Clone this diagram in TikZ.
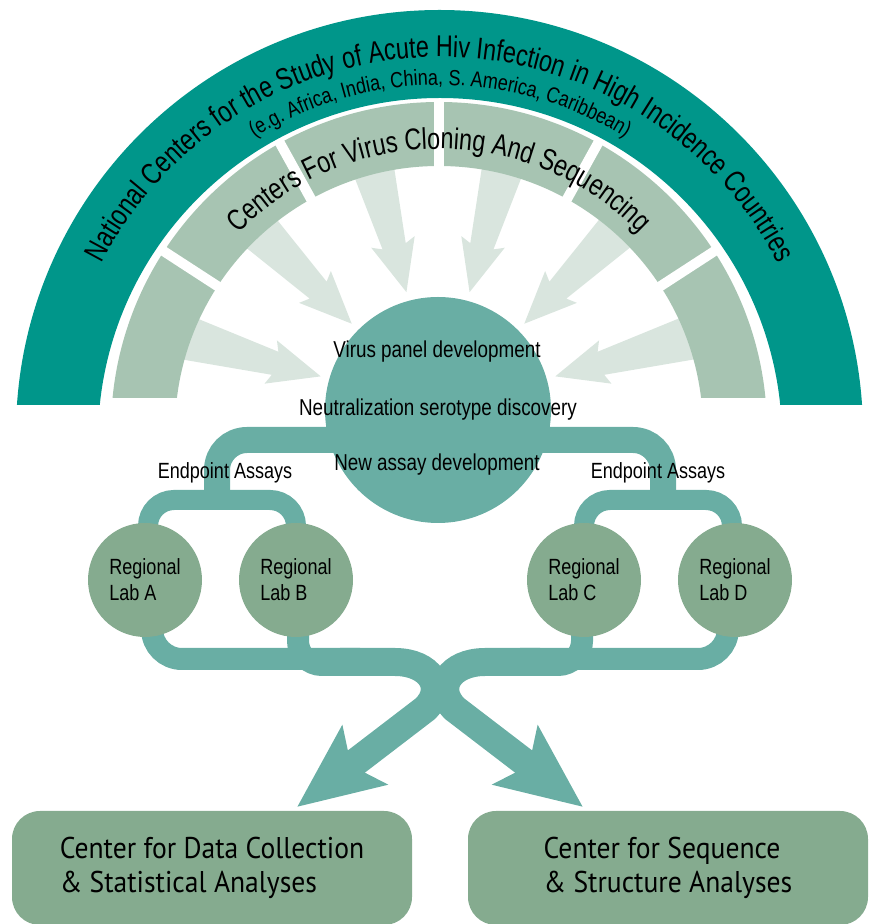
\documentclass[tikz,border=0pt]{standalone}
\usepackage{fontspec}
\setmainfont{Liberation Sans}
\newfontfamily\hv[FakeStretch=0.82]{Liberation Sans}
\newfontfamily\hvn[FakeStretch=0.78]{Liberation Sans}
\newfontfamily\my[FakeStretch=0.92]{PT Sans}
\usetikzlibrary{decorations.text,arrows.meta,calc}
\definecolor{teal1}{HTML}{00968A}
\definecolor{sage}{HTML}{A7C4B2}
\definecolor{pale}{HTML}{D9E5DE}
\definecolor{pipec}{HTML}{69AEA4}
\definecolor{labc}{HTML}{85AB8F}
\begin{document}
\begin{tikzpicture}[x=1pt,y=1pt,
  pipe/.style={draw=pipec},
  lab/.style={circle,fill=labc,minimum size=114pt,inner sep=0pt,align=left,font=\hv\fontsize{22}{26}\selectfont},
  core/.style={circle,fill=pipec,minimum size=226pt,inner sep=0pt},
  coretext/.style={inner sep=0pt,font=\hv\fontsize{23}{25}\selectfont},
  endp/.style={inner sep=0pt,font=\hv\fontsize{22}{24}\selectfont},
  box/.style={rectangle,rounded corners=28pt,fill=labc,minimum width=400pt,minimum height=114pt,align=left,inner sep=0pt,font=\my\fontsize{30}{34}\selectfont},
  bigarrow/.style={pipe,line width=28pt,-{Stealth[length=84pt,width=72pt,inset=16pt]}}]
\useasboundingbox (0,0) rectangle (870,924);
% key points
\coordinate (cCore) at (438,514);
\coordinate (cA) at (145,344);
\coordinate (cB) at (296,344);
\coordinate (cC) at (584,344);
\coordinate (cD) at (735,344);
\coordinate (jL) at (217,424);
\coordinate (jR) at (663,424);
\coordinate (cBand) at (439,494);
\coordinate (cText) at (440,487);
% light arrows from the sequencing centers
\foreach \a in {16,45,75,105,135,164}{
  \fill[pale,shift={(cCore)},rotate=\a] (122,0) -- (174,22.5) -- (169.5,12) -- (274,23.5) -- (274,-23.5) -- (169.5,-12) -- (174,-22.5) -- cycle;}
% outer band
\begin{scope}
  \clip (0,519) rectangle (870,924);
  \fill[teal1,even odd rule] (439.5,490.5) circle[radius=423.5] (440,484) circle[radius=342];
\end{scope}
% middle band
\begin{scope}
  \clip (0,526) rectangle (870,924);
  \fill[sage,even odd rule] (cBand) circle[radius=328] (cBand) circle[radius=264];
\end{scope}
\foreach \g in {33,61,90,119,147}
  \draw[white,line width=10pt] ($(cBand)+(\g:262)$) -- ($(cBand)+(\g:331)$);
% arc texts
\path[decorate,decoration={text along path,text align=center,
  text={|\hvn\fontsize{30}{32}\selectfont|National Centers for the Study of Acute Hiv Infection in High Incidence Countries}}]
  ($(cText)+(175:380)$) arc[start angle=175,end angle=5,radius=380];
\path[decorate,decoration={text along path,text align=center,
  text={|\hv\fontsize{22}{24}\selectfont|(e.g. Africa, India, China, S. America, Caribbean)}}]
  ($(cText)+(175:352)$) arc[start angle=175,end angle=5,radius=352];
\path[decorate,decoration={text along path,text align=center,
  text={|\hvn\fontsize{30}{32}\selectfont|Centers For Virus Cloning And Sequencing}}]
  ($(cBand)+(175:281)$) arc[start angle=175,end angle=5,radius=281];
% upper pipes
\draw[pipe,line width=26pt,rounded corners=30pt] (420,484) -| (jL);
\draw[pipe,line width=26pt,rounded corners=30pt] (460,484) -| (jR);
\draw[pipe,line width=20pt,rounded corners=26pt] ([xshift=3pt]cA) |- (jL) -| (cB);
\draw[pipe,line width=20pt,rounded corners=26pt] ([xshift=-3pt]cD) |- (jR) -| (cC);
% lower pipes
\draw[pipe,line width=22pt,rounded corners=30pt] ([xshift=7pt]cA) |- (360,265);
\draw[pipe,line width=22pt,rounded corners=24pt] ([xshift=2pt]cB) |- (360,259);
\draw[pipe,line width=22pt,rounded corners=30pt] ([xshift=-7pt]cD) |- (520,265);
\draw[pipe,line width=22pt,rounded corners=24pt] ([xshift=-2pt]cC) |- (520,259);
% main arrows to the analysis centers
\draw[bigarrow] (340,262) -- (395,262) .. controls (430,262) and (447,236) .. (425,215) -- (297,117);
\draw[bigarrow] (540,262) -- (485,262) .. controls (450,262) and (433,236) .. (455,215) -- (583,117);
% nodes
\node[core] (core) at (cCore) {};
\node[coretext] (t1) at (437,572) {Virus panel development};
\node[coretext] (t2) at (438,514) {Neutralization serotype discovery};
\node[coretext] (t3) at (437,459) {New assay development};
\node[endp] (eL) at (225,451) {Endpoint Assays};
\node[endp] (eR) at (658,451) {Endpoint Assays};
\node[lab] (labA) at (cA) {Regional\\Lab A};
\node[lab] (labB) at (cB) {Regional\\Lab B};
\node[lab] (labC) at (cC) {Regional\\Lab C};
\node[lab] (labD) at (cD) {Regional\\Lab D};
\node[box] (dcol) at (212,56) {Center for Data Collection\\\& Statistical Analyses};
\node[box] (sseq) at (668,56) {Center for Sequence\\\& Structure Analyses};
\end{tikzpicture}
\end{document}
